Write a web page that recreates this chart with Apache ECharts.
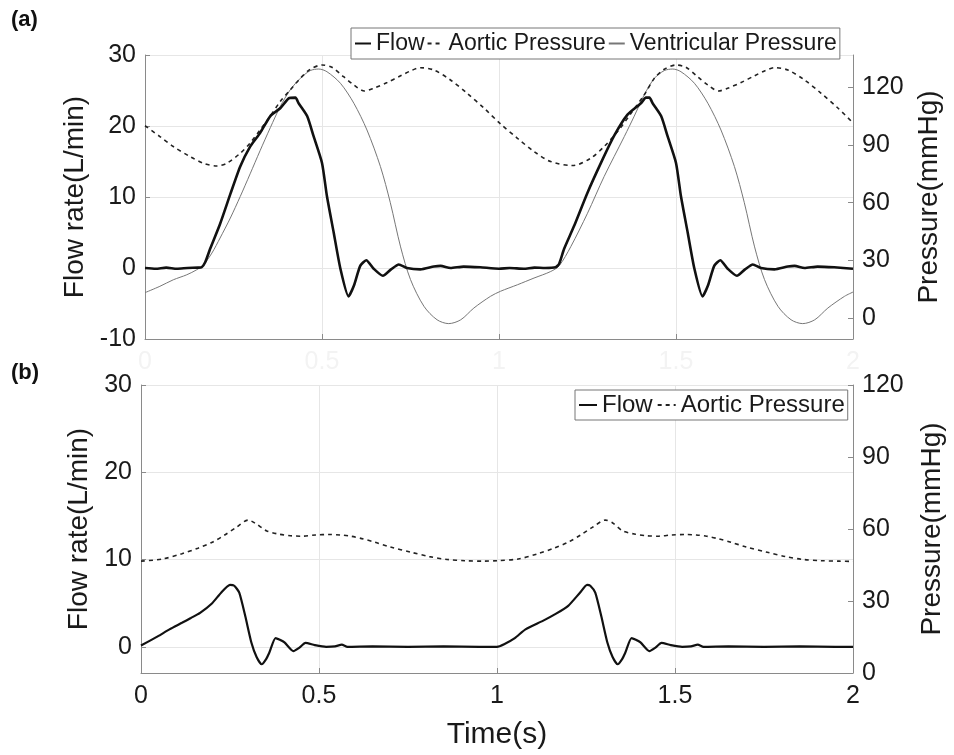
<!DOCTYPE html>
<html><head><meta charset="utf-8">
<script src="https://cdn.jsdelivr.net/npm/echarts@6/dist/echarts.min.js"></script>
<style>html,body{margin:0;padding:0;background:#fff}#c{width:954px;height:755px}</style>
</head><body><div id="c"></div>
<script>
// ---------- DATA ----------
const xTickValues = [0, 0.5, 1, 1.5, 2];
const flowTicksA = [-10, 0, 10, 20, 30];
const pressTicksA = [0, 30, 60, 90, 120];
const flowTicksB = [0, 10, 20, 30];
const pressTicksB = [0, 30, 60, 90, 120];

// Panel (a) flow rate (L/min)
const flowA_t = [0,0.03,0.06,0.09,0.12,0.15,0.16,0.17,0.184,0.212,0.241,0.269,0.297,0.325,0.354,0.382,0.406,0.425,0.434,0.458,0.476,0.5,0.514,0.533,0.552,0.575,0.59,0.608,0.625,0.646,0.672,0.695,0.717,0.74,0.778,0.816,0.835,0.863,0.9,0.947,
  1.0,1.03,1.07,1.1,1.13,1.16,1.17,1.184,1.212,1.25,1.288,1.325,1.363,1.401,1.415,1.425,1.434,1.458,1.476,1.5,1.514,1.533,1.552,1.575,1.59,1.608,1.625,1.646,1.672,1.695,1.717,1.74,1.778,1.816,1.835,1.863,1.9,1.947,2.0];
const flowA_v = [0,-0.1,0.05,-0.1,0,0.05,0.1,0.8,2.7,6.2,10.4,14.3,17.1,19.0,21.4,22.5,23.9,24.0,23.2,21.4,18.6,14.8,10.1,5.0,-0.1,-4.0,-2.5,0.3,1.1,-0.1,-1.1,-0.2,0.5,0,-0.2,0.2,0.3,0,0.2,0.1,
  -0.1,0,-0.1,0.05,0,0.1,0.6,2.7,5.9,10.6,14.8,18.6,21.6,23.2,24,24,23.2,21.4,18.6,14.8,10.1,5.0,-0.1,-4.0,-2.5,0.3,1.1,-0.1,-1.1,-0.2,0.5,0,-0.2,0.2,0.3,0,0.2,0.1,-0.1];

// Panel (a) aortic pressure (mmHg)
const aortA_t = [0,0.042,0.08,0.127,0.165,0.203,0.231,0.269,0.297,0.325,0.354,0.382,0.41,0.439,0.467,0.5,0.528,0.561,0.59,0.62,0.646,0.684,0.722,0.75,0.778,0.816,0.863,0.91,0.958,
  1.004,1.052,1.099,1.146,1.208,1.259,1.297,1.335,1.373,1.41,1.439,1.467,1.5,1.528,1.561,1.59,1.62,1.646,1.684,1.722,1.75,1.778,1.816,1.863,1.91,1.958,2.0];
const aortA_v = [100,94.4,89.2,84,80.5,79.1,80.5,85.7,91,97.8,105,112.6,118.6,124.7,129.4,131.6,130.4,125.5,121.2,118.1,119.5,122.5,126,128.5,130.2,129,123.8,116.9,109.1,
  101,93.5,86.6,81.4,79.3,83.1,89.2,97,106.5,116,124.7,129.4,131.6,130.4,125.5,121.2,118.1,119.5,122.5,126,128.5,130.2,129,123.8,116.9,109.1,101.5];

// Panel (a) ventricular pressure (mmHg)
const ventA_t = [0,0.042,0.08,0.118,0.146,0.165,0.189,0.212,0.241,0.269,0.297,0.325,0.354,0.382,0.41,0.439,0.467,0.491,0.514,0.552,0.59,0.627,0.665,0.693,0.722,0.75,0.788,0.825,0.858,0.892,0.929,0.976,
  1.004,1.052,1.099,1.146,1.17,1.203,1.25,1.297,1.354,1.382,1.41,1.439,1.467,1.491,1.514,1.552,1.59,1.627,1.665,1.693,1.722,1.75,1.788,1.825,1.858,1.892,1.929,1.976,2.0];
const ventA_v = [13.2,16.5,19.9,22.5,25.1,27.7,33.8,41.6,52,63.2,75,87,99,110,118.6,124.7,128.7,129.5,128.1,122.1,111.7,97.8,78.8,60,37,20,6.1,-0.9,-2.9,-0.9,5.2,11.3,
  13.9,17.3,20.8,24.2,27.2,37.2,54.5,73.6,94.4,105,116,124.7,128.7,129.5,128.1,122.1,111.7,97.8,78.8,60,37,20,6.1,-0.9,-2.9,-0.9,5.2,11.3,13.5];

// Panel (b) flow rate (L/min)
const flowB_t = [0,0.047,0.08,0.115,0.14,0.166,0.2,0.225,0.25,0.262,0.276,0.293,0.31,0.325,0.339,0.35,0.36,0.378,0.39,0.403,0.428,0.445,0.462,0.488,0.52,0.545,0.564,0.58,0.65,0.75,0.85,0.95,
  1.0,1.02,1.05,1.08,1.13,1.166,1.2,1.233,1.253,1.262,1.276,1.293,1.31,1.325,1.339,1.35,1.36,1.378,1.39,1.403,1.428,1.445,1.462,1.488,1.52,1.545,1.564,1.58,1.65,1.75,1.85,1.95,2.0];
const flowB_v = [0.15,1.2,2.0,2.75,3.3,3.9,5.0,6.2,7.1,7.0,6.2,3.5,0.5,-1.2,-2.0,-1.5,-0.7,1.0,0.8,0.5,-0.5,-0.1,0.45,0.2,0,0.05,0.25,0,0.05,0,0.05,0,
  0,0.3,1.0,2.0,3.0,3.8,4.7,6.2,7.1,7.0,6.2,3.5,0.5,-1.2,-2.0,-1.5,-0.7,1.0,0.8,0.5,-0.5,-0.1,0.45,0.2,0,0.05,0.25,0,0.05,0,0.05,0,0];

// Panel (b) aortic pressure (mmHg)
const aortB_t = [0,0.06,0.115,0.16,0.2,0.235,0.268,0.301,0.32,0.352,0.386,0.42,0.454,0.49,0.53,0.56,0.589,0.62,0.657,0.7,0.759,0.81,0.86,0.91,0.962,
  1.0,1.06,1.115,1.16,1.2,1.235,1.268,1.305,1.325,1.352,1.386,1.42,1.454,1.49,1.53,1.56,1.589,1.62,1.657,1.7,1.759,1.81,1.86,1.91,1.962,2.0];
const aortB_v = [46.6,47.5,49.7,52,54.5,57.5,60.7,63.7,62.5,59.3,57.9,57.2,57,57.5,57.7,57.5,57,56,54.5,52.5,50.3,48.5,47.3,46.8,46.6,
  46.8,47.5,49.7,52,54.5,57.5,60.7,63.7,62.5,59.3,57.9,57.2,57,57.5,57.7,57.5,57,56,54.5,52.5,50.3,48.5,47.3,46.8,46.6,46.5];

// ---------- CHART ----------
const zip = (t, v) => t.map((x, i) => [x, v[i]]);
const FONT = "'Liberation Sans', Arial, sans-serif";
const AXC = '#8a8a8a', GRIDC = '#e6e6e6', TXT = '#1a1a1a';
const NOFILL = 'rgba(0,0,0,0)';

function xAxis(grid, labelColor, name) {
  return {
    type: 'value', gridIndex: grid, min: 0, max: 2, interval: 0.5,
    axisLine: { show: true, onZero: false, lineStyle: { color: AXC, width: 1 } },
    axisTick: { show: true, inside: true, length: 5, lineStyle: { color: AXC } },
    axisLabel: { color: labelColor, fontSize: 25, fontFamily: FONT, margin: 11,
      customValues: xTickValues, formatter: v => String(v) },
    splitLine: { show: true, lineStyle: { color: GRIDC, width: 1 } },
    name: name || '', nameLocation: 'middle', nameGap: 47,
    nameTextStyle: { fontSize: 30, color: TXT, fontFamily: FONT }
  };
}
function yAxis(grid, pos, min, max, ticks, split, name, gap) {
  return {
    type: 'value', gridIndex: grid, position: pos, min: min, max: max,
    axisLine: { show: true, onZero: false, lineStyle: { color: AXC, width: 1 } },
    axisTick: { show: true, inside: true, length: 5, customValues: ticks, lineStyle: { color: AXC } },
    axisLabel: { color: TXT, fontSize: 25, fontFamily: FONT, margin: 9, customValues: ticks },
    splitLine: { show: split, lineStyle: { color: GRIDC, width: 1 } },
    name: name, nameLocation: 'middle', nameGap: gap,
    nameTextStyle: { fontSize: 28, color: TXT, fontFamily: FONT }
  };
}
const flowStyle = { color: '#111', width: 2.6 };
const aortStyle = { color: '#222', width: 1.6, type: [4, 4] };
const ventStyle = { color: '#777', width: 1 };

const option = {
  animation: false,
  backgroundColor: '#fff',
  textStyle: { fontFamily: FONT },
  grid: [
    { left: 145, top: 55, width: 708, height: 284 },
    { left: 141, top: 385, width: 721, height: 288 }
  ],
  xAxis: [ xAxis(0, '#f3f3f3'), xAxis(1, TXT, 'Time(s)') ],
  yAxis: [
    yAxis(0, 'left', -10, 30, flowTicksA, true, 'Flow rate(L/min)', 49),
    yAxis(0, 'right', -10.9, 136.8, pressTicksA, false, 'Pressure(mmHg)', 62),
    yAxis(1, 'left', -3, 30, flowTicksB, true, 'Flow rate(L/min)', 48),
    yAxis(1, 'right', 0, 120, pressTicksB, false, 'Pressure(mmHg)', 65)
  ],
  legend: [
    { left: 351, top: 28, orient: 'horizontal', itemWidth: 16, itemHeight: 12, itemGap: 2,
      padding: [4, 3, 4, 3], borderColor: '#777', borderWidth: 1, backgroundColor: '#fff',
      itemStyle: { opacity: 0, color: NOFILL, borderWidth: 0 },
      textStyle: { fontSize: 23, color: TXT, fontFamily: FONT },
      data: ['Flow', 'Aortic Pressure', 'Ventricular Pressure'], selectedMode: false },
    { left: 575, top: 390, orient: 'horizontal', itemWidth: 18, itemHeight: 12, itemGap: 4,
      padding: [3, 3, 3, 3], borderColor: '#777', borderWidth: 1, backgroundColor: '#fff',
      itemStyle: { opacity: 0, color: NOFILL, borderWidth: 0 },
      textStyle: { fontSize: 24, color: TXT, fontFamily: FONT },
      data: ['Flow', 'Aortic Pressure'], selectedMode: false }
  ],
  graphic: [
    { type: 'text', left: 11, top: 9, style: { text: '(a)', fontSize: 22, fontWeight: 'bold', fill: '#111', fontFamily: FONT } },
    { type: 'text', left: 11, top: 362, style: { text: '(b)', fontSize: 22, fontWeight: 'bold', fill: '#111', fontFamily: FONT } }
  ],
  series: [
    { name: 'Flow', type: 'line', xAxisIndex: 0, yAxisIndex: 0, data: zip(flowA_t, flowA_v),
      symbol: 'none', smooth: 0.2, lineStyle: flowStyle, itemStyle: { color: NOFILL }, z: 4 },
    { name: 'Aortic Pressure', type: 'line', xAxisIndex: 0, yAxisIndex: 1, data: zip(aortA_t, aortA_v),
      symbol: 'none', smooth: 0.3, lineStyle: aortStyle, itemStyle: { color: NOFILL }, z: 3 },
    { name: 'Ventricular Pressure', type: 'line', xAxisIndex: 0, yAxisIndex: 1, data: zip(ventA_t, ventA_v),
      symbol: 'none', smooth: 0.3, lineStyle: ventStyle, itemStyle: { color: NOFILL }, z: 2 },
    { name: 'Flow', type: 'line', xAxisIndex: 1, yAxisIndex: 2, data: zip(flowB_t, flowB_v),
      symbol: 'none', smooth: 0.2, lineStyle: { color: '#111', width: 2.2 }, itemStyle: { color: NOFILL }, z: 4 },
    { name: 'Aortic Pressure', type: 'line', xAxisIndex: 1, yAxisIndex: 3, data: zip(aortB_t, aortB_v),
      symbol: 'none', smooth: 0.3, lineStyle: aortStyle, itemStyle: { color: NOFILL }, z: 3 }
  ]
};
const chart = echarts.init(document.getElementById('c'), null, { renderer: 'canvas' });
chart.setOption(option);
</script>
</body></html>
